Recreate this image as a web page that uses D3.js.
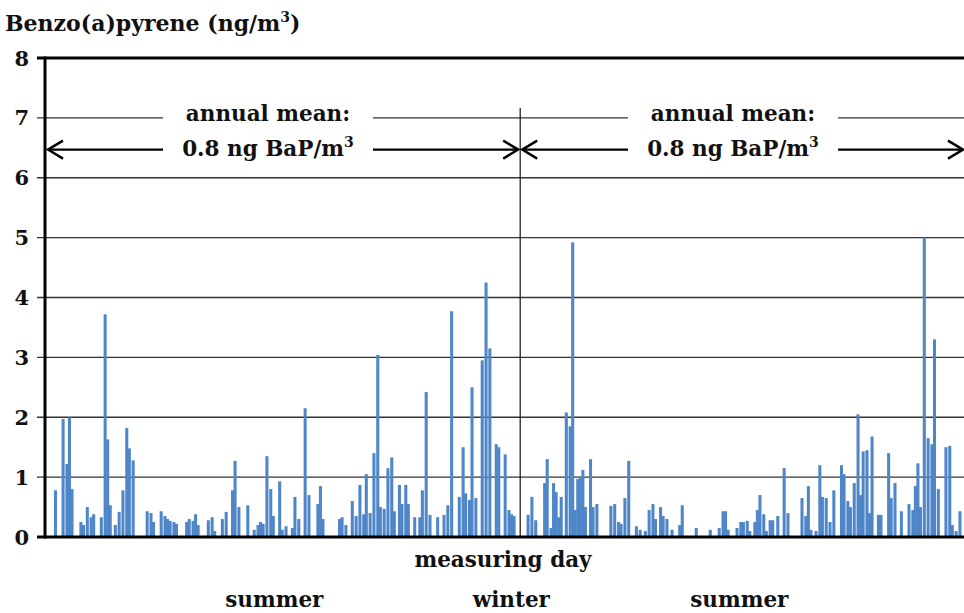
<!DOCTYPE html>
<html><head><meta charset="utf-8">
<script src="https://cdn.jsdelivr.net/npm/d3@7"></script>
<style>body{margin:0;background:#fff}svg{display:block}</style>
</head><body><svg id="c" width="964" height="613"></svg>
<script>
// measuring day index (approx.) and BaP concentration (ng/m3)
const days1 = [7,13,16,18,20,27,29,32,35,37,43,46,48,50,54,57,60,63,65,68,79,82,84,90,93,95,97,100,102,110,112,115,117,119,127,130,132,138,141,146,148,151,158,163,166,168,170,173,176,178,183,185,188,193,195,198,203,206,213,215,217,230,232,235,240,243,246,249,251,254,257,260,262,265,268,271,273,277,279,282,284,289,293,295,298,301,307,312,315,318,324,327,329,332,334,337,342,345,348,353,355,360,363,365,367];
const vals1 = [0.78,1.97,1.22,2.0,0.8,0.25,0.2,0.5,0.33,0.38,0.33,3.72,1.63,0.53,0.2,0.42,0.78,1.82,1.48,1.28,0.43,0.4,0.25,0.43,0.35,0.3,0.27,0.25,0.22,0.25,0.3,0.27,0.38,0.2,0.28,0.33,0.1,0.3,0.42,0.78,1.27,0.5,0.53,0.12,0.2,0.25,0.22,1.35,0.8,0.35,0.93,0.12,0.18,0.15,0.67,0.3,2.15,0.7,0.55,0.85,0.3,0.3,0.33,0.2,0.6,0.35,0.87,0.38,1.05,0.4,1.4,3.04,0.5,0.47,1.15,1.33,0.43,0.87,0.55,0.87,0.55,0.33,0.33,0.78,2.42,0.37,0.33,0.37,0.53,3.77,0.67,1.5,0.73,0.62,2.5,0.65,2.95,4.25,3.15,1.55,1.5,1.38,0.45,0.38,0.35];
const days2 = [378,381,384,391,393,396,398,400,402,404,408,411,413,415,417,419,421,423,427,429,432,443,446,449,451,454,457,463,466,470,473,476,478,482,484,487,491,497,499,510,521,528,531,533,535,542,545,547,550,552,556,558,560,563,565,568,570,574,579,582,593,596,598,600,604,607,609,612,615,618,624,626,629,631,634,637,639,641,644,646,648,653,655,661,663,666,671,677,680,682,684,686,689,692,695,697,700,706,709,711,714,717];
const vals2 = [0.37,0.67,0.28,0.9,1.3,0.15,0.9,0.75,0.33,0.67,2.08,1.85,4.92,0.45,0.97,1.0,1.12,0.5,1.3,0.5,0.55,0.52,0.55,0.25,0.22,0.65,1.27,0.18,0.12,0.1,0.45,0.55,0.3,0.5,0.35,0.3,0.12,0.2,0.53,0.15,0.12,0.15,0.43,0.43,0.12,0.15,0.25,0.25,0.27,0.1,0.25,0.45,0.7,0.38,0.1,0.28,0.28,0.35,1.15,0.4,0.65,0.35,0.85,0.12,0.1,1.2,0.67,0.65,0.25,0.78,1.2,1.05,0.6,0.5,0.9,2.05,0.7,1.43,1.45,0.4,1.68,0.37,0.37,1.4,0.65,0.9,0.43,0.55,0.45,0.85,1.23,0.5,5.0,1.65,1.55,3.3,0.8,1.5,1.52,0.2,0.1,0.43];
const yTicks = [0,1,2,3,4,5,6,7,8];
const yearBoundary = 373;
const annualMean = ["annual mean:", "0.8 ng BaP/m³"];
const seasons = [{label:"summer", day:180},{label:"winter", day:366},{label:"summer", day:545}];

const days = days1.concat(days2), vals = vals1.concat(vals2);
const data = days.map((d,i)=>({day:d, v:vals[i]}));

const svg = d3.select("#c");
const font = "'DejaVu Serif', 'Liberation Serif', serif";
const x = d3.scaleLinear().domain([0,730]).range([45,975]);
const y = d3.scaleLinear().domain([0,8]).range([537,58]);
const barW = x(2.4) - x(0);

// gridlines
svg.append("g").selectAll("line").data(yTicks.filter(t=>t>0 && t<8)).join("line")
  .attr("x1",37).attr("x2",975).attr("y1",d=>y(d)).attr("y2",d=>y(d))
  .attr("stroke","#333").attr("stroke-width",1.3);

// bars
svg.append("g").selectAll("rect").data(data).join("rect")
  .attr("x",d=>x(d.day)).attr("width",barW)
  .attr("y",d=>y(d.v)).attr("height",d=>y(0)-y(d.v))
  .attr("fill","#4f86c8");

// year divider
svg.append("line").attr("x1",x(yearBoundary)).attr("x2",x(yearBoundary))
  .attr("y1",108).attr("y2",y(0)).attr("stroke","#111").attr("stroke-width",1.2);

// axes frame
svg.append("line").attr("x1",37).attr("x2",975).attr("y1",y(8)).attr("y2",y(8)).attr("stroke","#000").attr("stroke-width",3);
svg.append("line").attr("x1",37).attr("x2",975).attr("y1",y(0)).attr("y2",y(0)).attr("stroke","#000").attr("stroke-width",3);
svg.append("line").attr("x1",x(0)).attr("x2",x(0)).attr("y1",y(8)-1.5).attr("y2",y(0)+1.5).attr("stroke","#000").attr("stroke-width",3);

// y tick labels
svg.append("g").selectAll("text").data(yTicks).join("text")
  .attr("x",29).attr("y",d=>y(d)).attr("dy","0.36em").attr("text-anchor","end")
  .attr("font-family",font).attr("font-weight","bold").attr("font-size",21).attr("fill","#111")
  .text(d=>d);

// axis title
const t = svg.append("text").attr("x",5).attr("y",31).attr("font-family",font)
  .attr("font-weight","bold").attr("font-size",22).attr("fill","#111");
t.append("tspan").text("Benzo(a)pyrene (ng/m");
t.append("tspan").attr("font-size",14).attr("dy",-9).text("3");
t.append("tspan").attr("dy",9).text(")");

// annual mean annotations
const arrowY = y(6.47);
function arrow(x1,x2){
  const g = svg.append("g").attr("stroke","#000").attr("stroke-width",2.4).attr("fill","none");
  g.append("line").attr("x1",x1).attr("x2",x2).attr("y1",arrowY).attr("y2",arrowY);
  g.append("path").attr("d",`M${x1+15},${arrowY-9}L${x1},${arrowY}L${x1+15},${arrowY+9}`);
  g.append("path").attr("d",`M${x2-15},${arrowY-9}L${x2},${arrowY}L${x2+-15},${arrowY+9}`);
}
arrow(x(0)+3, x(yearBoundary)-2);
arrow(x(yearBoundary)+2, x(730)-12);
function label(cx){
  svg.append("rect").attr("x",cx-105).attr("y",96).attr("width",210).attr("height",66).attr("fill","#fff");
  svg.append("text").attr("x",cx).attr("y",121).attr("text-anchor","middle")
    .attr("font-family",font).attr("font-weight","bold").attr("font-size",21.5).attr("fill","#111").text(annualMean[0]);
  const s = svg.append("text").attr("x",cx).attr("y",156).attr("text-anchor","middle")
    .attr("font-family",font).attr("font-weight","bold").attr("font-size",21.5).attr("fill","#111");
  s.append("tspan").text(annualMean[1].slice(0,-1));
  s.append("tspan").attr("font-size",14).attr("dy",-9).text("3");
}
label(268);
label(733);

// x axis title and seasons
svg.append("text").attr("x",503).attr("y",567).attr("text-anchor","middle")
  .attr("font-family",font).attr("font-weight","bold").attr("font-size",21.5).attr("fill","#111").text("measuring day");
svg.append("g").selectAll("text").data(seasons).join("text")
  .attr("x",d=>x(d.day)).attr("y",607).attr("text-anchor","middle")
  .attr("font-family",font).attr("font-weight","bold").attr("font-size",21.5).attr("fill","#111").text(d=>d.label);
</script></body></html>
